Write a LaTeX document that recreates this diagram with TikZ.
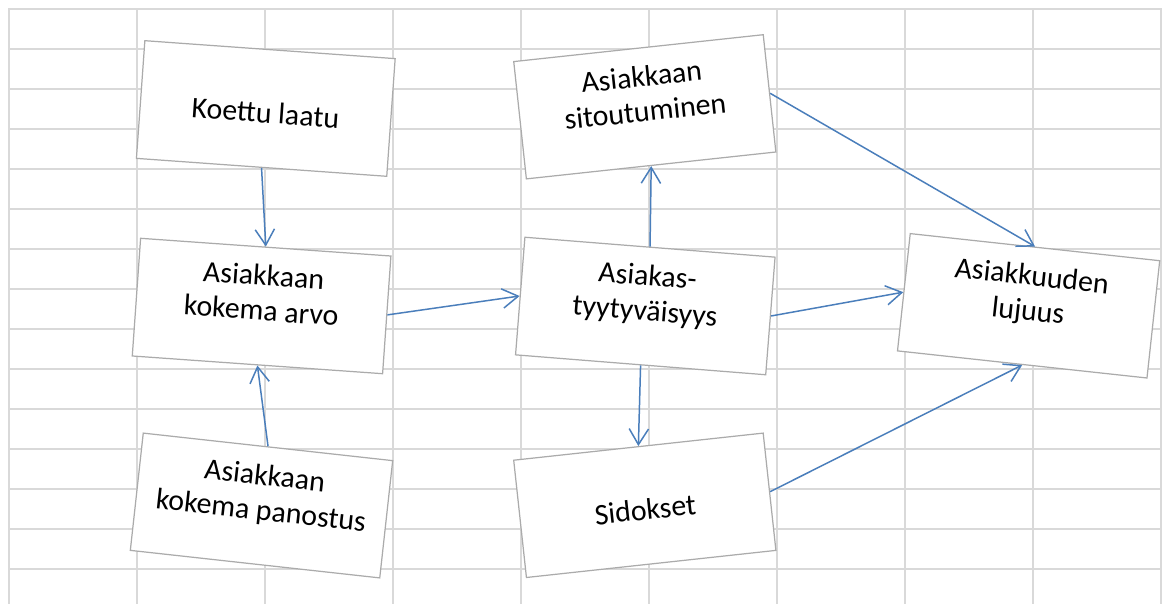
\documentclass[tikz,border=0pt]{standalone}
\usepackage{fontspec}
\setmainfont{Carlito}
\usetikzlibrary{arrows.meta}
\definecolor{c1}{HTML}{4A7EBB}
\definecolor{gridcolor}{HTML}{D9D9D9}
\definecolor{boxcolor}{HTML}{ABABAB}

\begin{document}
\begin{tikzpicture}[
    x=0.02cm, y=-0.02cm,
    every node/.style={font=\fontsize{17}{19.9}\selectfont},
    box/.style={
        rectangle, minimum width=5.02cm, minimum height=2.36cm,
        inner sep=0pt, line width=0.7pt, draw=boxcolor, fill=white,
        align=center, text height=16.5pt, text depth=0pt,
    },
    arr/.style={-{Straight Barb[length=9pt, width=11pt]}, line width=0.85pt, color=c1},
]
\useasboundingbox (0,0) rectangle (1169,604);

% ---------------------------------------------------------------- grid
\foreach \i in {0,...,9}{
    \draw[gridcolor, line width=1.1pt] (9+\i*128, 9) -- (9+\i*128, 604);
}
\foreach \j in {0,...,14}{
    \draw[gridcolor, line width=1.1pt] (8, 9+\j*40) -- (1162, 9+\j*40);
}

% ---------------------------------------------------------------- left column
\node[box, rotate=-4.1] (laatu) at (265.8, 108.5) {Koettu laatu};
\node[box, rotate=-4.05] (arvo) at (261.6, 306) {Asiakkaan\\kokema arvo};
\node[box, rotate=-6.3] (panostus) at (261.5, 505.5) {Asiakkaan\\kokema panostus};

% ---------------------------------------------------------------- middle column
\node[box, rotate=6.15] (sitout) at (644.8, 106.8) {Asiakkaan\\sitoutuminen};
\node[box, rotate=-4.55] (tyyt) at (645.3, 306) {Asiakas-\\tyytyväisyys};
\node[box, rotate=6.2] (sidokset) at (644.8, 505.3) {Sidokset};

% ---------------------------------------------------------------- right column
\node[box, rotate=-6.2] (lujuus) at (1028.6, 305.8) {Asiakkuuden\\lujuus};

% ---------------------------------------------------------------- arrows
\draw[arr] (laatu.south) -- (arvo.north);
\draw[arr] (panostus.north) -- (arvo.south);
\draw[arr] (arvo.east) -- (tyyt.west);
\draw[arr] (tyyt.north) -- (sitout.south);
\draw[arr] (tyyt.south) -- (sidokset.north);
\draw[arr] (tyyt.east) -- (lujuus.west);
\draw[arr] (sitout.east) -- (lujuus.north);
\draw[arr] (sidokset.east) -- (lujuus.south);

\end{tikzpicture}
\end{document}
